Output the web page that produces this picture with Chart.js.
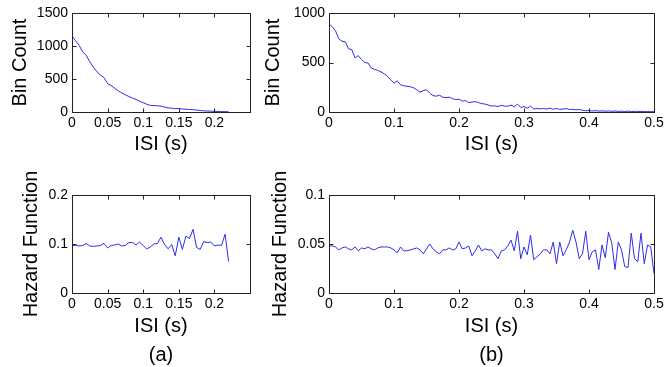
<!DOCTYPE html>
<html>
<head>
<meta charset="utf-8">
<script src="https://cdn.jsdelivr.net/npm/chart.js@4/dist/chart.umd.min.js"></script>
<style>
  html, body { margin: 0; padding: 0; background: #fff; }
  #wrap { position: relative; width: 668px; height: 367px; }
  #wrap canvas { position: absolute; left: 0; top: 0; }
</style>
</head>
<body>
<div id="wrap">
  <canvas id="countA" width="668" height="367"></canvas>
  <canvas id="countB" width="668" height="367"></canvas>
  <canvas id="hazA" width="668" height="367"></canvas>
  <canvas id="hazB" width="668" height="367"></canvas>
</div>
<script>
// ISI bin centres (s)
var binsA = [0, 0.005, 0.01, 0.015, 0.02, 0.025, 0.03, 0.035, 0.04, 0.045,
    0.05, 0.055, 0.06, 0.065, 0.07, 0.075, 0.08, 0.085, 0.09, 0.095,
    0.1, 0.105, 0.11, 0.115, 0.12, 0.125, 0.13, 0.135, 0.14, 0.145,
    0.15, 0.155, 0.16, 0.165, 0.17, 0.175, 0.18, 0.185, 0.19, 0.195,
    0.2, 0.205, 0.21, 0.215, 0.22];
var binsB = [0, 0.005, 0.01, 0.015, 0.02, 0.025, 0.03, 0.035, 0.04, 0.045,
    0.05, 0.055, 0.06, 0.065, 0.07, 0.075, 0.08, 0.085, 0.09, 0.095,
    0.1, 0.105, 0.11, 0.115, 0.12, 0.125, 0.13, 0.135, 0.14, 0.145,
    0.15, 0.155, 0.16, 0.165, 0.17, 0.175, 0.18, 0.185, 0.19, 0.195,
    0.2, 0.205, 0.21, 0.215, 0.22, 0.225, 0.23, 0.235, 0.24, 0.245,
    0.25, 0.255, 0.26, 0.265, 0.27, 0.275, 0.28, 0.285, 0.29, 0.295,
    0.3, 0.305, 0.31, 0.315, 0.32, 0.325, 0.33, 0.335, 0.34, 0.345,
    0.35, 0.355, 0.36, 0.365, 0.37, 0.375, 0.38, 0.385, 0.39, 0.395,
    0.4, 0.405, 0.41, 0.415, 0.42, 0.425, 0.43, 0.435, 0.44, 0.445,
    0.45, 0.455, 0.46, 0.465, 0.47, 0.475, 0.48, 0.485, 0.49, 0.495,
    0.5];

// bin counts
var countA = [1150, 1080, 1010, 910, 860, 760, 680, 610, 560, 520,
    430, 400, 360, 320, 290, 260, 235, 210, 190, 165,
    140, 118, 100, 98, 94, 88, 75, 62, 58, 50,
    55, 45, 42, 38, 35, 30, 22, 18, 15, 12,
    10, 8, 6, 5, 4];
var countB = [890, 860, 820, 740, 715, 710, 640, 630, 545, 570,
    530, 500, 495, 445, 430, 420, 405, 385, 360, 325,
    290, 315, 275, 265, 260, 255, 245, 225, 200, 215,
    225, 190, 165, 160, 170, 150, 145, 150, 135, 125,
    130, 110, 115, 95, 100, 105, 95, 85, 80, 70,
    60, 62, 55, 68, 60, 58, 70, 52, 80, 45,
    55, 38, 60, 30, 35, 32, 35, 30, 38, 28,
    35, 26, 30, 35, 25, 28, 22, 25, 18, 12,
    15, 10, 14, 9, 12, 8, 11, 7, 10, 6,
    8, 5, 9, 4, 7, 5, 6, 4, 5, 3,
    4];

// hazard function
var hazardA = [0.097, 0.097, 0.096, 0.097, 0.101, 0.096, 0.095, 0.096, 0.097, 0.101,
    0.092, 0.097, 0.098, 0.100, 0.096, 0.097, 0.103, 0.103, 0.098, 0.104,
    0.097, 0.090, 0.094, 0.100, 0.101, 0.114, 0.099, 0.090, 0.099, 0.076,
    0.114, 0.089, 0.116, 0.111, 0.130, 0.093, 0.089, 0.105, 0.103, 0.104,
    0.096, 0.098, 0.097, 0.120, 0.064];
var hazardB = [0.048, 0.048, 0.047, 0.044, 0.046, 0.047, 0.045, 0.044, 0.047, 0.043,
    0.046, 0.045, 0.047, 0.045, 0.044, 0.046, 0.047, 0.047, 0.047, 0.046,
    0.044, 0.041, 0.047, 0.043, 0.043, 0.044, 0.045, 0.046, 0.044, 0.040,
    0.045, 0.050, 0.045, 0.042, 0.040, 0.044, 0.044, 0.046, 0.044, 0.045,
    0.052, 0.045, 0.046, 0.048, 0.038, 0.043, 0.049, 0.043, 0.045, 0.044,
    0.044, 0.040, 0.035, 0.043, 0.044, 0.048, 0.054, 0.043, 0.063, 0.035,
    0.047, 0.039, 0.059, 0.034, 0.037, 0.040, 0.044, 0.044, 0.040, 0.052,
    0.030, 0.052, 0.038, 0.044, 0.052, 0.064, 0.052, 0.035, 0.040, 0.063,
    0.034, 0.042, 0.044, 0.024, 0.049, 0.036, 0.062, 0.051, 0.024, 0.052,
    0.044, 0.027, 0.026, 0.061, 0.035, 0.032, 0.061, 0.030, 0.049, 0.047,
    0.020];

var LINE_COLOR = "rgb(45, 45, 235)";
var AXIS_COLOR = "#222";

Chart.defaults.font.family = '"Liberation Sans", Arial, Helvetica, sans-serif';
Chart.defaults.color = "#000";

// MATLAB style box with inward ticks on all four sides
var boxPlugin = {
    id: "matlabBox",
    afterDraw: function (chart, args, opts) {
        var ctx = chart.ctx;
        var a = chart.chartArea;
        var xs = chart.scales.x;
        var ys = chart.scales.y;
        var l = Math.round(a.left) + 0.5, r = Math.round(a.right) + 0.5;
        var t = Math.round(a.top) + 0.5, b = Math.round(a.bottom) + 0.5;
        ctx.save();
        ctx.strokeStyle = AXIS_COLOR;
        ctx.lineWidth = 1;
        ctx.strokeRect(l, t, r - l, b - t);
        ctx.beginPath();
        xs.ticks.forEach(function (tk) {
            var px = Math.round(xs.getPixelForValue(tk.value)) + 0.5;
            ctx.moveTo(px, b); ctx.lineTo(px, b - 4);
            ctx.moveTo(px, t); ctx.lineTo(px, t + 4);
        });
        ys.ticks.forEach(function (tk) {
            var py = Math.round(ys.getPixelForValue(tk.value)) + 0.5;
            ctx.moveTo(l, py); ctx.lineTo(l + 4, py);
            ctx.moveTo(r, py); ctx.lineTo(r - 4, py);
        });
        ctx.stroke();
        if (opts.letter) {
            ctx.fillStyle = "#000";
            ctx.font = '20px "Liberation Sans", Arial, sans-serif';
            ctx.textAlign = "center";
            ctx.textBaseline = "middle";
            ctx.fillText(opts.letter, (a.left + a.right) / 2, 355);
        }
        ctx.restore();
    }
};

function fmt(v) {
    return String(Math.round(v * 1000) / 1000);
}

function makePanel(id, xs, ys, cfg) {
    var el = document.getElementById(id);
    if (!el) {
        console.warn("canvas not found: " + id);
        return;
    }
    new Chart(el.getContext("2d"), {
        type: "line",
        data: {
            datasets: [{
                data: xs.map(function (x, i) { return { x: x, y: ys[i] }; }),
                borderColor: LINE_COLOR,
                borderWidth: 1,
                pointRadius: 0,
                tension: 0,
                fill: false
            }]
        },
        options: {
            responsive: false,
            animation: false,
            events: [],
            layout: { padding: cfg.padding },
            plugins: {
                legend: { display: false },
                tooltip: { enabled: false },
                matlabBox: { letter: cfg.letter || "" }
            },
            scales: {
                x: {
                    type: "linear",
                    min: 0,
                    max: cfg.xMax,
                    grid: { display: false, drawTicks: false },
                    border: { display: false },
                    ticks: {
                        stepSize: cfg.xStep,
                        padding: 3,
                        maxRotation: 0,
                        autoSkip: false,
                        font: { size: 14 },
                        callback: function (v) {
                            return cfg.xLabels.indexOf(fmt(v)) >= 0 ? fmt(v) : "";
                        }
                    },
                    title: {
                        display: true,
                        text: "ISI (s)",
                        font: { size: 20 },
                        padding: { top: 0, bottom: cfg.xTitlePad }
                    },
                    afterFit: function (s) { s.height = 48; }
                },
                y: {
                    min: 0,
                    max: cfg.yMax,
                    grid: { display: false, drawTicks: false },
                    border: { display: false },
                    ticks: {
                        stepSize: cfg.yStep,
                        padding: 4,
                        font: { size: 14 },
                        callback: function (v) { return fmt(v); }
                    },
                    title: {
                        display: true,
                        text: cfg.yTitle,
                        font: { size: 20 },
                        padding: { top: cfg.yTitlePad, bottom: 0 }
                    },
                    afterFit: function (s) { s.width = cfg.yWidth; }
                }
            }
        },
        plugins: [boxPlugin]
    });
}

var ticksA = ["0", "0.05", "0.1", "0.15", "0.2"];
var ticksB = ["0", "0.1", "0.2", "0.3", "0.4", "0.5"];

makePanel("countA", binsA, countA, {
    padding: { left: 0, top: 13, right: 418, bottom: 207 },
    xMax: 0.25, xStep: 0.05, xLabels: ticksA, xTitlePad: 4,
    yMax: 1500, yStep: 500, yTitle: "Bin Count", yTitlePad: 8, yWidth: 72
});
makePanel("countB", binsB, countB, {
    padding: { left: 255, top: 13, right: 14, bottom: 207 },
    xMax: 0.5, xStep: 0.1, xLabels: ticksB, xTitlePad: 4,
    yMax: 1000, yStep: 500, yTitle: "Bin Count", yTitlePad: 6, yWidth: 74
});
makePanel("hazA", binsA, hazardA, {
    padding: { left: 0, top: 195, right: 418, bottom: 26 },
    xMax: 0.25, xStep: 0.05, xLabels: ticksA, xTitlePad: 3,
    yMax: 0.2, yStep: 0.1, yTitle: "Hazard Function", yTitlePad: 19, yWidth: 72,
    letter: "(a)"
});
makePanel("hazB", binsB, hazardB, {
    padding: { left: 255, top: 195, right: 14, bottom: 26 },
    xMax: 0.5, xStep: 0.1, xLabels: ticksB, xTitlePad: 3,
    yMax: 0.1, yStep: 0.05, yTitle: "Hazard Function", yTitlePad: 13, yWidth: 74,
    letter: "(b)"
});
</script>
</body>
</html>
